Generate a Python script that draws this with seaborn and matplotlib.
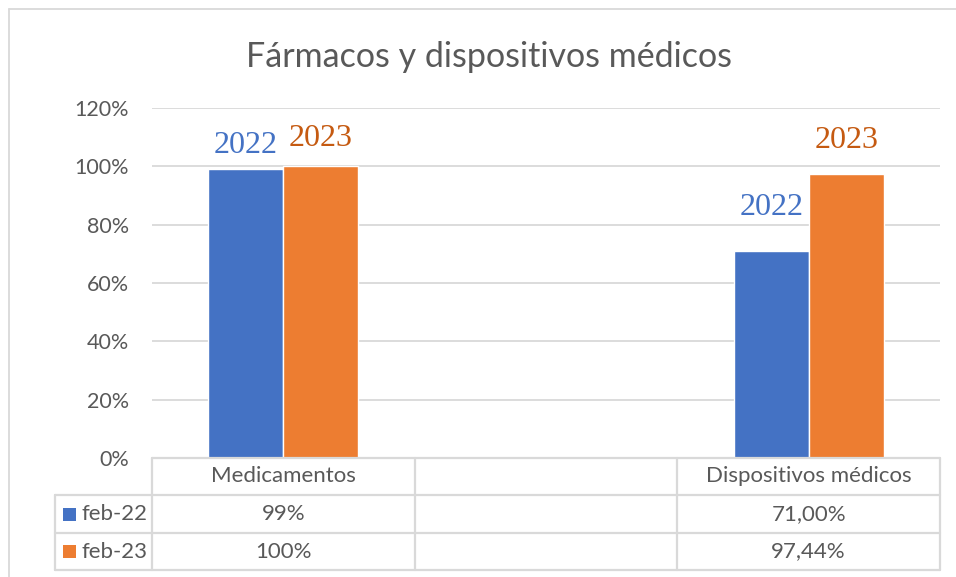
import matplotlib
matplotlib.use("Agg")
import matplotlib.pyplot as plt
import seaborn as sns
import pandas as pd
from matplotlib.lines import Line2D
from matplotlib.patches import Rectangle
from matplotlib.ticker import FuncFormatter

# ---- data ----
categories = ["Medicamentos", "", "Dispositivos médicos"]
series = ["feb-22", "feb-23"]
values_feb22 = [99.0, None, 71.00]
values_feb23 = [100.0, None, 97.44]
table_feb22 = ["99%", "", "71,00%"]
table_feb23 = ["100%", "", "97,44%"]
bar_labels = ["2022", "2023"]
title = "Fármacos y dispositivos médicos"
yticks = [0, 20, 40, 60, 80, 100, 120]

colors = ["#4472C4", "#ED7D31"]
label_colors = ["#4472C4", "#C55A11"]
text_color = "#595959"
grid_color = "#D9D9D9"

rows = []
for c, v1, v2 in zip(categories, values_feb22, values_feb23):
    if v1 is not None:
        rows.append({"cat": c, "serie": series[0], "val": v1})
    if v2 is not None:
        rows.append({"cat": c, "serie": series[1], "val": v2})
df = pd.DataFrame(rows)

sns.set_theme(style="white")
plt.rcParams["font.family"] = ["Lato", "DejaVu Sans"]

W, H = 956, 577
fig = plt.figure(figsize=(W / 100, H / 100), dpi=100)
fig.patch.set_facecolor("white")

L, R, T, B = 152, 940, 108, 458
ax = fig.add_axes([L / W, 1 - B / H, (R - L) / W, (B - T) / H])

sns.barplot(data=df, x="cat", y="val", hue="serie", order=categories,
            hue_order=series, palette=colors, width=0.571, ax=ax,
            errorbar=None, legend=False, saturation=1, zorder=3)

ax.set_ylim(0, 120)
ax.set_xlim(-0.5, len(categories) - 0.5)
ax.set_yticks(yticks)
ax.yaxis.set_major_formatter(FuncFormatter(lambda v, p: f"{v:.0f}%"))
ax.tick_params(axis="y", length=0, labelsize=15.5, labelcolor=text_color, pad=16.5)
ax.set_xticks([])
ax.set_xlabel("")
ax.set_ylabel("")
for s in ax.spines.values():
    s.set_visible(False)
ax.yaxis.grid(True, color=grid_color, linewidth=1.3, zorder=0)
ax.set_axisbelow(True)

# bar labels (manual-looking text boxes above bars)
offsets = {(0, 0): 16, (0, 1): 20, (2, 0): 36, (2, 1): 26}
for j, cont in enumerate(ax.containers):
    for bar in cont:
        h = bar.get_height()
        if h != h or h == 0:
            continue
        xc = bar.get_x() + bar.get_width() / 2
        ci = int(round(xc))
        ax.annotate(bar_labels[j], (xc, h), xytext=(0, offsets.get((ci, j), 12)),
                    textcoords="offset pixels", ha="center", va="baseline",
                    fontsize=23, color=label_colors[j],
                    family=["Liberation Serif", "DejaVu Serif"])

# title
fig.text((489) / W, 1 - 57 / H, title, ha="center", va="center",
         fontsize=24.5, color=text_color)

# ---- data table ----
trans = ax.transAxes
axh = B - T
axw = R - L
def ay(py):
    return (B - py) / axh
def axx(px):
    return (px - L) / axw

tc = "#D9D9D9"
lw = 1.6
y_hdr_top, y_r1, y_r2, y_bot = 458, 495, 533, 570
x_left = 55
col_edges = [-0.5 + i for i in range(len(categories) + 1)]

def hline(x0, x1, y):
    ax.add_line(Line2D([x0, x1], [ay(y), ay(y)], transform=trans, color=tc,
                       lw=lw, clip_on=False, zorder=5))
def vline(x, y0, y1):
    ax.add_line(Line2D([x, x], [ay(y0), ay(y1)], transform=trans, color=tc,
                       lw=lw, clip_on=False, zorder=5))

hline(0, 1, y_hdr_top)
hline(axx(x_left), 1, y_r1)
hline(axx(x_left), 1, y_r2)
hline(axx(x_left), 1, y_bot)
for e in col_edges:
    xa = (e + 0.5) / len(categories)
    vline(xa, y_hdr_top, y_bot)
vline(axx(x_left), y_r1, y_bot)

tfs = 16
for i, c in enumerate(categories):
    xa = (i + 0.5) / len(categories)
    ax.text(xa, ay((y_hdr_top + y_r1) / 2), c, transform=trans, ha="center",
            va="center", fontsize=tfs, color=text_color)
    ax.text(xa, ay((y_r1 + y_r2) / 2), table_feb22[i], transform=trans,
            ha="center", va="center", fontsize=tfs, color=text_color)
    ax.text(xa, ay((y_r2 + y_bot) / 2), table_feb23[i], transform=trans,
            ha="center", va="center", fontsize=tfs, color=text_color)

for k, (name, col, (y0, y1)) in enumerate(zip(series, colors,
                                            [(y_r1, y_r2), (y_r2, y_bot)])):
    ym = (y0 + y1) / 2
    sq = 13
    ax.add_patch(Rectangle((axx(63), ay(ym + sq / 2)), sq / axw, sq / axh,
                           transform=trans, facecolor=col, edgecolor="none",
                           clip_on=False))
    ax.text(axx(81), ay(ym), name, transform=trans, ha="left", va="center",
            fontsize=tfs, color=text_color)

# outer chart frame (left & top visible)
fig.add_artist(Line2D([9 / W, 9 / W], [0, 1 - 9 / H], transform=fig.transFigure,
                      color=tc, lw=1.3))
fig.add_artist(Line2D([9 / W, 1], [1 - 9 / H, 1 - 9 / H], transform=fig.transFigure,
                      color=tc, lw=1.3))

fig.savefig("out.png", dpi=100, facecolor="white")
